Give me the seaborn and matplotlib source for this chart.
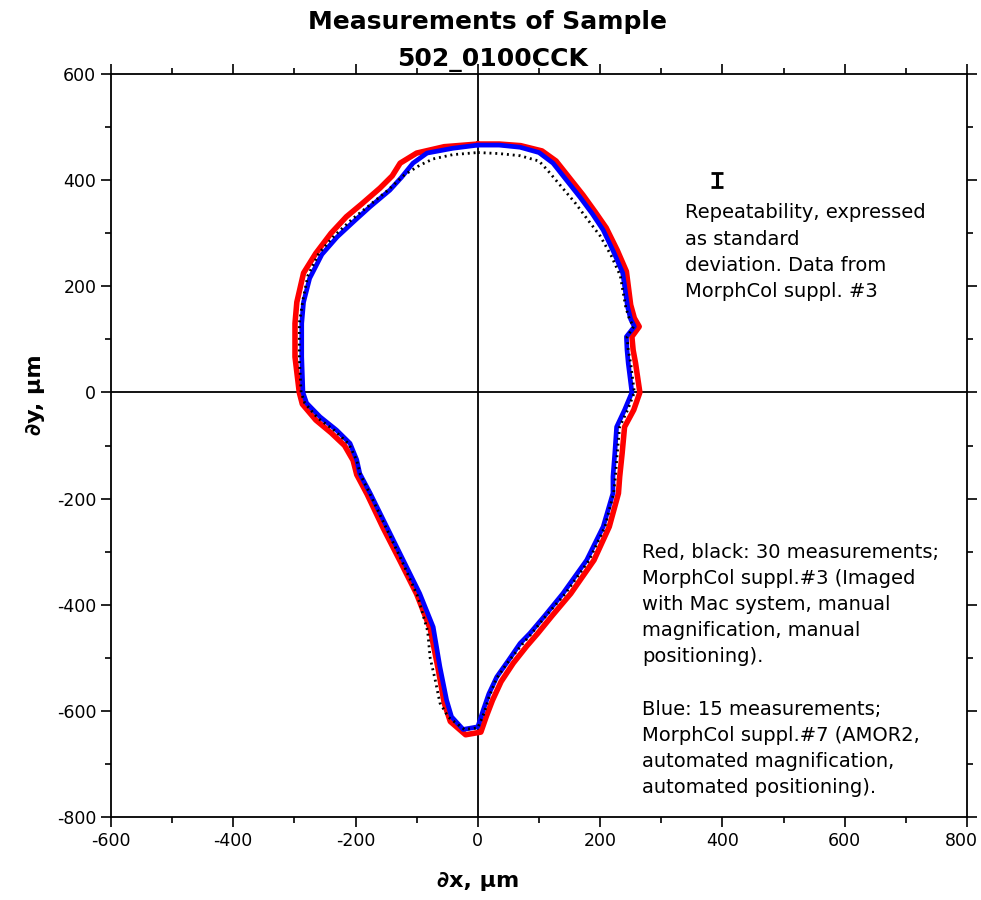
import matplotlib
matplotlib.use("Agg")
import matplotlib.pyplot as plt
from matplotlib.ticker import MultipleLocator
from matplotlib.transforms import ScaledTranslation
import seaborn as sns

# ---- data (µm) ----
blue_x = [0, 35, 69, 100, 123, 145, 167, 187, 205, 222, 237, 245, 250, 256, 243, 244, 246, 252,
          240, 227, 224, 221, 221, 205, 178, 139, 110, 85, 69, 50, 31, 18, 9, 0,
          -24, -43, -51, -62, -73, -95, -122, -149, -176, -193, -198, -209, -231, -258, -280, -286,
          -288, -288, -285, -275, -255, -230, -200, -176, -144, -125, -106, -83, -41, 0]
blue_y = [466, 466, 462, 452, 432, 400, 368, 337, 306, 265, 225, 161, 138, 124, 105, 80, 55, 0,
          -33, -65, -115, -159, -190, -253, -316, -379, -420, -454, -473, -505, -536, -568, -598, -630,
          -635, -611, -580, -517, -442, -379, -316, -253, -190, -153, -127, -96, -71, -46, -20, 0,
          67, 130, 170, 215, 260, 293, 325, 350, 381, 405, 432, 451, 460, 466]

red_x = [0, 35, 70, 105, 128, 150, 172, 192, 210, 228, 243, 250, 256, 264, 252, 254, 258, 265,
         255, 240, 236, 232, 230, 215, 190, 152, 122, 98, 80, 58, 38, 24, 14, 5,
         -20, -45, -55, -65, -78, -100, -127, -155, -181, -198, -204, -218, -240, -265, -287, -292,
         -299, -299, -296, -285, -265, -240, -215, -190, -160, -140, -127, -100, -55, 0]
red_y = [468, 468, 465, 455, 436, 404, 372, 340, 310, 268, 228, 165, 140, 124, 105, 80, 55, 0,
         -33, -65, -115, -159, -190, -253, -316, -379, -420, -454, -478, -510, -545, -580, -610, -640,
         -645, -620, -585, -520, -445, -380, -318, -255, -192, -155, -128, -100, -76, -52, -22, 0,
         67, 130, 170, 225, 262, 300, 331, 355, 385, 408, 432, 451, 463, 468]

black_x = [0, 35, 69, 100, 113, 135, 160, 180, 200, 218, 233, 242, 248, 255, 244, 246, 250, 256,
           245, 232, 228, 225, 222, 208, 182, 143, 112, 88, 70, 48, 30, 18, 10, 0,
           -22, -48, -62, -70, -78, -82, -98, -124, -150, -176, -192, -198, -211, -234, -262, -283, -289,
           -292, -292, -286, -278, -260, -235, -205, -180, -148, -120, -95, -73, -41, 0]
black_y = [452, 450, 446, 436, 420, 390, 356, 325, 295, 258, 220, 160, 138, 124, 105, 80, 55, 0,
           -33, -65, -115, -159, -190, -253, -316, -379, -420, -454, -478, -510, -540, -575, -605, -632,
           -635, -612, -585, -540, -500, -450, -385, -318, -255, -192, -155, -128, -97, -72, -48, -20, 0,
           67, 130, 175, 220, 262, 295, 327, 350, 380, 410, 428, 440, 448, 452]

# repeatability bar (standard deviation)
sd_x = [391]
sd_y = [400]
sd_err = [13]

x_ticks = [-600, -400, -200, 0, 200, 400, 600, 800]
y_ticks = [-800, -600, -400, -200, 0, 200, 400, 600]

title_1 = "Measurements of Sample"
title_2 = "502_0100CCK"
note_1 = "Repeatability, expressed\nas standard\ndeviation. Data from\nMorphCol suppl. #3"
note_2 = ("Red, black: 30 measurements;\nMorphCol suppl.#3 (Imaged\nwith Mac system, manual\n"
          "magnification, manual\npositioning).\n\nBlue: 15 measurements;\n"
          "MorphCol suppl.#7 (AMOR2,\nautomated magnification,\nautomated positioning).")

# ---- style ----
sns.set_theme(style="ticks")
plt.rcParams["font.family"] = ["DejaVu Sans"]
plt.rcParams["axes.unicode_minus"] = False
plt.rcParams["text.color"] = "black"

fig = plt.figure(figsize=(9.81, 9), dpi=100)
ax = fig.add_axes([0.1131, 0.0922, 0.8726, 0.8256])

ax.axhline(0, color="black", lw=1.3, zorder=1)
ax.axvline(0, color="black", lw=1.3, zorder=1)

sns.lineplot(x=red_x, y=red_y, sort=False, estimator=None, color="#ff0000", lw=4.0, ax=ax, zorder=2)
sns.lineplot(x=blue_x, y=blue_y, sort=False, estimator=None, color="#0000ff", lw=3.4, ax=ax, zorder=3)
sns.lineplot(x=black_x, y=black_y, sort=False, estimator=None, color="black", lw=2.0,
             linestyle=(0, (0.7, 1.4)), ax=ax, zorder=4)

ax.errorbar(sd_x, sd_y, yerr=sd_err, fmt="none", ecolor="black", elinewidth=2.2, capsize=4.5,
            capthick=2)

ax.set_xlim(-600, 800)
ax.set_ylim(-800, 600)
ax.set_xticks(x_ticks)
ax.set_yticks(y_ticks)
ax.xaxis.set_minor_locator(MultipleLocator(100))
ax.yaxis.set_minor_locator(MultipleLocator(100))
ax.tick_params(which="both", direction="out", top=True, right=True, bottom=True, left=True,
               labeltop=False, labelright=False, color="black", width=1.2, labelsize=12.5,
               labelcolor="black")
ax.tick_params(which="major", length=7)
ax.tick_params(which="minor", length=4)
for s in ax.spines.values():
    s.set_visible(True)
    s.set_color("black")
    s.set_linewidth(1.3)

last = ax.get_xticklabels()[-1]
last.set_transform(last.get_transform() + ScaledTranslation(-4 / 72, 0, fig.dpi_scale_trans))

ax.set_xlabel("∂x, μm", fontsize=16, fontweight="bold", color="black")
ax.set_ylabel("∂y, μm", fontsize=16, fontweight="bold", color="black")
ax.xaxis.set_label_coords(0.429, -0.072)
ax.yaxis.set_label_coords(-0.077, 0.568)

ax.text(339, 356, note_1, fontsize=14, va="top", ha="left", linespacing=1.48, color="black")
ax.text(269, -283, note_2, fontsize=14, va="top", ha="left", linespacing=1.48, color="black")

fig.text(0.497, 1 - 22 / 900, title_1, ha="center", va="center", fontsize=18, fontweight="bold",
         color="black")
fig.text(0.502, 1 - 60 / 900, title_2, ha="center", va="center", fontsize=18, fontweight="bold",
         color="black")

fig.savefig("out.png", dpi=100)
